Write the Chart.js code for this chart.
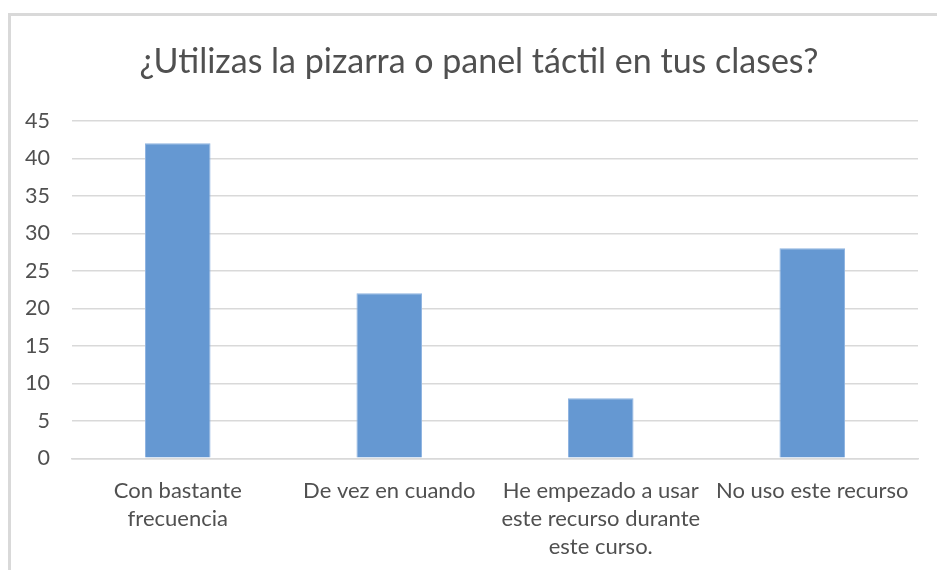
<!DOCTYPE html>
<html>
<head>
<meta charset="utf-8">
<script src="https://cdn.jsdelivr.net/npm/chart.js@4/dist/chart.umd.min.js"></script>
<style>
  html, body { margin: 0; padding: 0; background: #ffffff; }
  #wrap { position: relative; width: 937px; height: 570px; overflow: hidden; }
  #frame { position: absolute; left: 8px; top: 13px; width: 1000px; height: 700px;
           border-left: 3px solid #d9d9d9; border-top: 3px solid #d9d9d9; box-sizing: border-box; }
  canvas { position: absolute; left: 0; top: 0; }
</style>
</head>
<body>
<div id="wrap">
  <div id="frame"></div>
  <canvas id="c" width="937" height="570"></canvas>
</div>
<script>
const chartTitle = "¿Utilizas la pizarra o panel táctil en tus clases?";
const categories = [
  ["Con bastante", "frecuencia"],
  ["De vez en cuando"],
  ["He empezado a usar", "este recurso durante", "este curso."],
  ["No uso este recurso"]
];
const values = [42, 22, 8, 28];
const yMin = 0;
const yMax = 45;
const yStep = 5;

const FONT = "Lato, 'Open Sans', sans-serif";
const TEXT = '#505050';

// shift the title box so it is centred on the outer frame, as in the reference
const titleShift = {
  id: 'titleShift',
  afterLayout(chart) {
    if (chart.titleBlock) { chart.titleBlock.left += 40; }
  }
};

new Chart(document.getElementById('c'), {
  type: 'bar',
  data: {
    labels: categories,
    datasets: [{
      data: values,
      backgroundColor: '#6598d2',
      borderColor: '#8fb4e0',
      borderWidth: 1,
      categoryPercentage: 1.0,
      barPercentage: 0.31
    }]
  },
  plugins: [titleShift],
  options: {
    responsive: false,
    animation: false,
    devicePixelRatio: 1,
    layout: { padding: { left: 0, right: 19, top: 0, bottom: 0 } },
    plugins: {
      legend: { display: false },
      tooltip: { enabled: false },
      title: {
        display: true,
        text: chartTitle,
        color: TEXT,
        font: { family: FONT, size: 34, weight: 'normal', lineHeight: 1.2 },
        padding: { top: 42, bottom: 38 }
      }
    },
    scales: {
      x: {
        grid: { display: false, drawTicks: false },
        border: { display: true, color: '#d9d9d9', width: 1.5 },
        ticks: {
          color: TEXT,
          font: { family: FONT, size: 22, lineHeight: 1.27 },
          padding: 19,
          maxRotation: 0,
          autoSkip: false
        },
        afterFit: (s) => { s.height = 111.7; }
      },
      y: {
        min: yMin,
        max: yMax,
        grid: { color: '#d9d9d9', lineWidth: 1.5, drawTicks: false },
        border: { display: false },
        ticks: {
          stepSize: yStep,
          color: TEXT,
          font: { family: FONT, size: 21.5 },
          padding: 22
        },
        afterFit: (s) => { s.width = 72; }
      }
    }
  }
});
</script>
</body>
</html>
